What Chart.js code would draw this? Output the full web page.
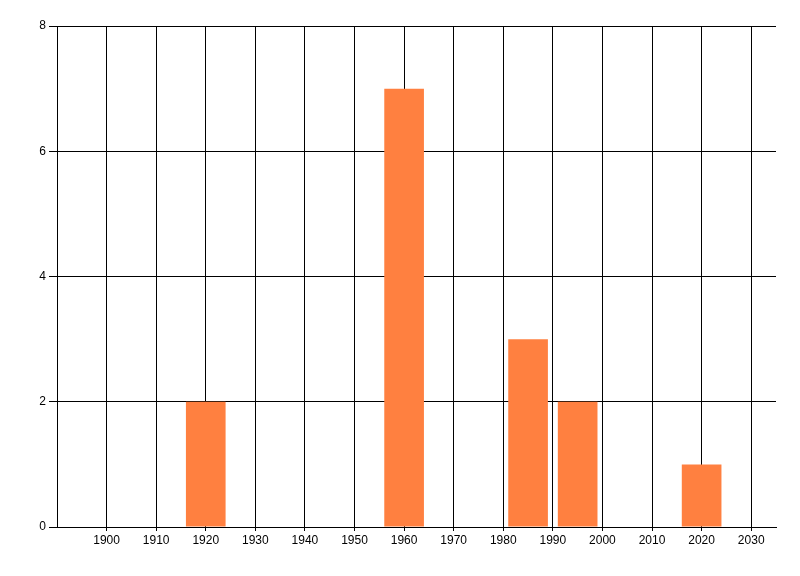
<!DOCTYPE html>
<html>
<head>
<meta charset="utf-8">
<script src="https://cdn.jsdelivr.net/npm/chart.js@4/dist/chart.umd.min.js"></script>
<style>
  html, body { margin: 0; padding: 0; background: #ffffff; }
  #wrap { width: 800px; height: 576px; }
</style>
</head>
<body>
<div id="wrap"><canvas id="c" width="800" height="576"></canvas></div>
<script>
// Data
const years = [1920, 1960, 1985, 1995, 2020];
const counts = [2, 7, 3, 2, 1];
const xTicks = [1900, 1910, 1920, 1930, 1940, 1950, 1960, 1970, 1980, 1990, 2000, 2010, 2020, 2030];
const yTicks = [0, 2, 4, 6, 8];
const xMin = 1890, xMax = 2035;
const yMin = 0, yMax = 8;

const points = years.map((y, i) => ({ x: y, y: counts[i] }));
const FONT = { family: "'Liberation Sans Narrow', 'Liberation Sans', Arial, sans-serif", size: 12 };

new Chart(document.getElementById('c'), {
  type: 'bar',
  data: {
    datasets: [{
      data: points,
      backgroundColor: 'rgb(255,128,64)',
      borderWidth: 0,
      borderSkipped: false,
      inflateAmount: 0,
      barPercentage: 0.8,
      categoryPercentage: 1.0
    }]
  },
  options: {
    responsive: false,
    animation: false,
    devicePixelRatio: 1,
    layout: { padding: { left: 0, right: 24, top: 26, bottom: 0 } },
    plugins: { legend: { display: false }, tooltip: { enabled: false } },
    scales: {
      x: {
        type: 'linear',
        min: xMin, max: xMax,
        offset: false,
        afterBuildTicks: s => { s.ticks = xTicks.map(v => ({ value: v })); },
        afterFit: s => { s.height = 49; },
        grid: { color: '#000', lineWidth: 1, tickLength: 4, offset: false, drawOnChartArea: true },
        border: { color: '#000', width: 1 },
        ticks: { color: '#000', font: FONT, padding: 2, maxRotation: 0, autoSkip: false,
                 callback: v => String(v) }
      },
      y: {
        type: 'linear',
        min: yMin, max: yMax,
        afterBuildTicks: s => { s.ticks = yTicks.map(v => ({ value: v })); },
        afterFit: s => { s.width = 57; },
        grid: { color: '#000', lineWidth: 1, tickLength: 8 },
        border: { color: '#000', width: 1 },
        ticks: { color: '#000', font: FONT, padding: 3 }
      }
    }
  }
});
</script>
</body>
</html>
